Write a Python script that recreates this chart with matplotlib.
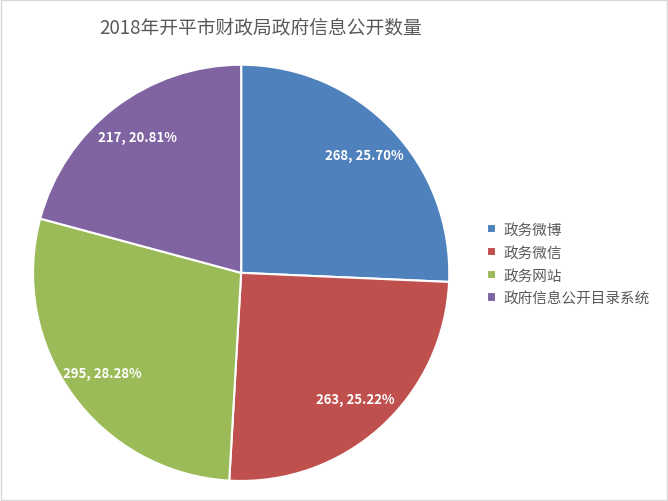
import matplotlib
matplotlib.use('Agg')
import matplotlib.pyplot as plt
from matplotlib.patches import Rectangle

plt.rcParams['font.family'] = ['Noto Sans CJK SC', 'DejaVu Sans']

categories = ['政务微博', '政务微信', '政务网站', '政府信息公开目录系统']
counts = [268, 263, 295, 217]
percents = [25.70, 25.22, 28.28, 20.81]
colors = ['#4F81BD', '#C0504D', '#9BBB59', '#8064A2']
title = '2018年开平市财政局政府信息公开数量'

fig = plt.figure(figsize=(6.68, 5.02), dpi=100)
ax = fig.add_axes([0.051, 0.042, 0.62, 0.825])

labels = ['%d, %.2f%%' % (c, p) for c, p in zip(counts, percents)]
wedges, texts = ax.pie(counts, colors=colors, startangle=90, counterclock=False,
                       labels=labels, labeldistance=0.82,
                       wedgeprops=dict(edgecolor='white', linewidth=1.5))
for t in texts:
    t.set_color('white')
    t.set_fontweight('bold')
    t.set_fontsize(9.5)
    t.set_ha('center')
    t.set_va('center')
    t.set_clip_on(False)
ax.set_xlim(-0.995, 0.995)
ax.set_ylim(-0.995, 0.995)
ax.set_aspect('equal')

fig.text(0.39, 0.945, title, ha='center', va='center', fontsize=13.5, color='#595959')

fig.legend(wedges, categories, loc='center left', bbox_to_anchor=(0.71, 0.472),
           frameon=False, fontsize=10.5, handlelength=0.6, handleheight=0.6,
           handletextpad=0.5, labelspacing=0.6, labelcolor='#595959')

fig.patches.append(Rectangle((0.001, 0.001), 0.997, 0.997, transform=fig.transFigure,
                             fill=False, edgecolor='#D9D9D9', linewidth=1))

fig.savefig('out.png', dpi=100)
